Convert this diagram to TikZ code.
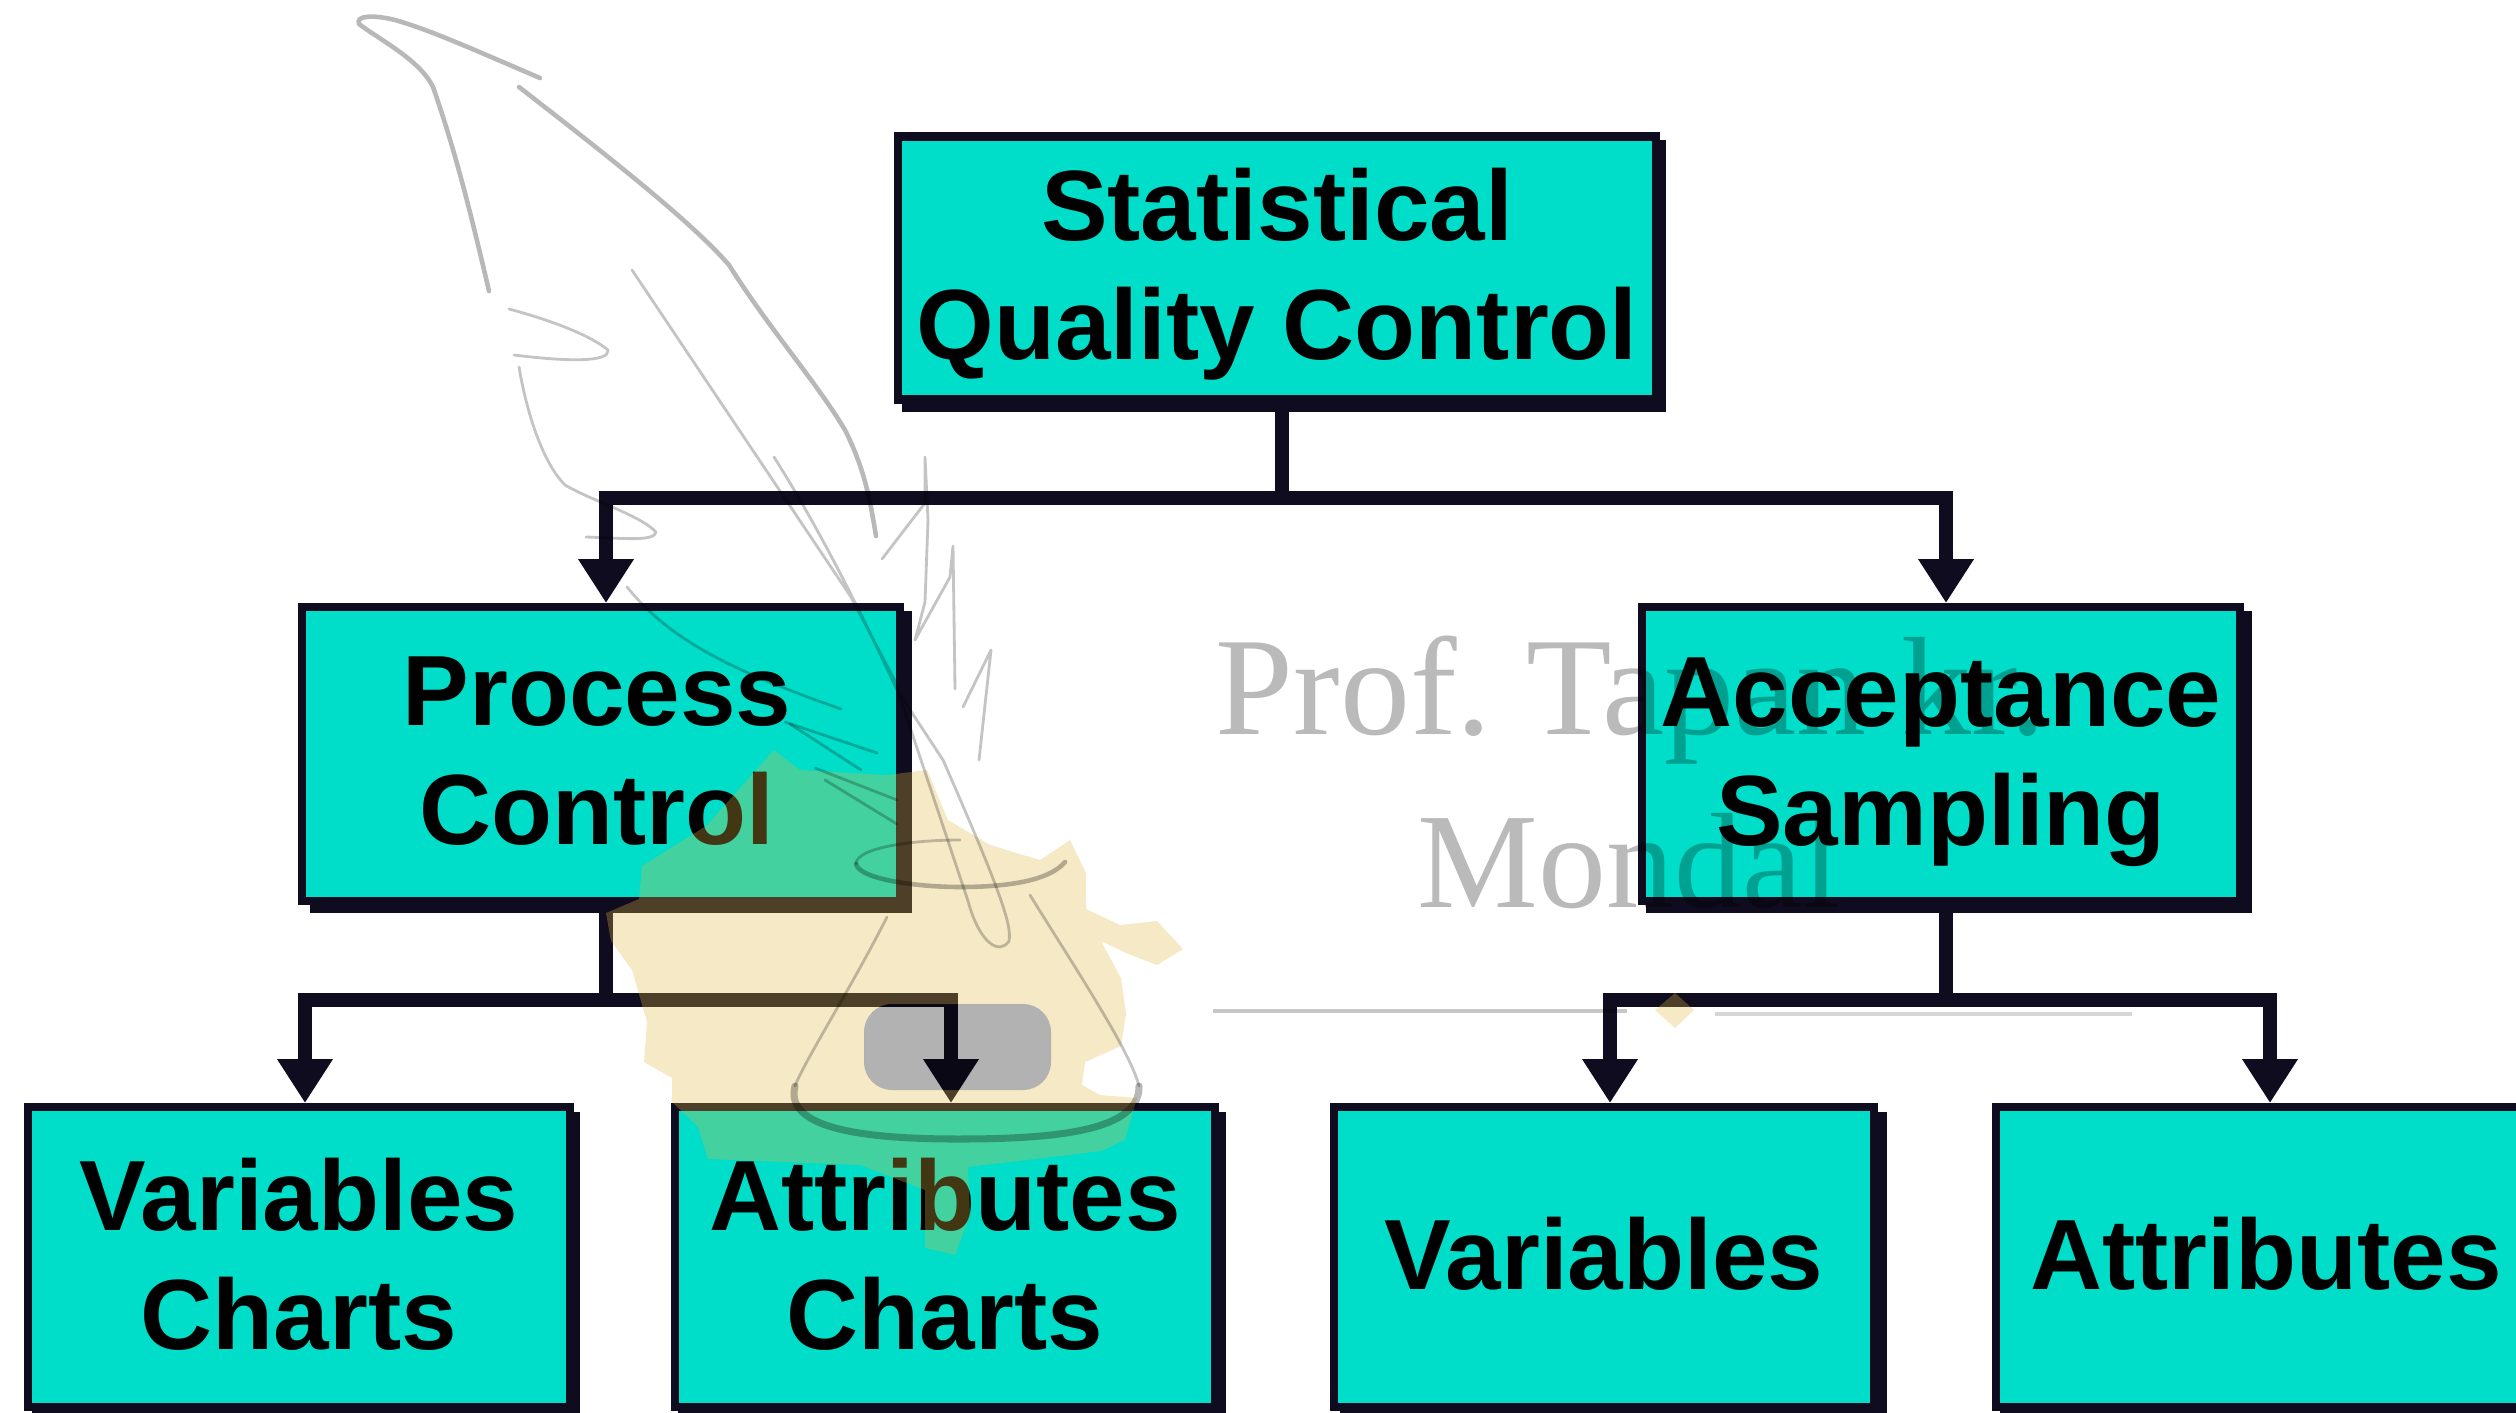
\documentclass[tikz,border=0pt]{standalone}
\usepackage{fontspec}
\setmainfont{Liberation Sans}[BoldFont={Liberation Sans Bold}]
\newfontfamily\wmfont{Liberation Serif}
\usetikzlibrary{arrows.meta}
\definecolor{teal1}{RGB}{0,221,200}
\definecolor{ink}{RGB}{14,12,30}
\definecolor{stainc}{RGB}{225,182,65}
\newlength{\pxu}\setlength{\pxu}{0.2845pt}
\newcommand{\lowertext}{\rule{0pt}{24.2pt}}
\newcommand{\raisetext}{\rule[-2pt]{0pt}{2pt}}
\tikzset{
  box/.style={rectangle,draw=ink,line width=2.4pt,fill=teal1,inner sep=0pt,align=center,
    font=\fontsize{28.4pt}{33.8pt}\selectfont\bfseries,text=black},
  link/.style={draw=ink,line width=4pt},
  arrowlink/.style={link,-{Triangle[length=12.5pt,width=15pt]}},
  boxshadow/.style={fill=ink},
  mark1/.style={draw=black,draw opacity=.28,line cap=round,line join=round,line width=1.3pt},
  mark2/.style={draw=black,draw opacity=.23,line cap=round,line join=round,line width=.8pt},
  wmtext/.style={text=black,text opacity=.27,anchor=base west,inner sep=0pt},
}
\begin{document}
\begin{tikzpicture}[x=0.01cm,y=-0.01cm]
\useasboundingbox (0,0) rectangle (2516,1412);
\begin{scope}
\clip (0,0) rectangle (2516,1412);
% shadows
\fill[boxshadow] (902,140) rectangle (1666,412);
\fill[boxshadow] (310,611) rectangle (912,913);
\fill[boxshadow] (1646,611) rectangle (2252,913);
\fill[boxshadow] (32,1112) rectangle (580,1430);
\fill[boxshadow] (678,1112) rectangle (1226,1430);
\fill[boxshadow] (1340,1112) rectangle (1887,1430);
\fill[boxshadow] (2000,1112) rectangle (2560,1430);
% boxes
\node[box,minimum width=758\pxu,minimum height=263\pxu] (sqc) at (1277,268) {\lowertext Statistical\\Quality Control};
\node[box,minimum width=598\pxu,minimum height=294\pxu] (pc) at (601,754) {Process\hspace*{2.3pt}\\Control\hspace*{2.3pt}\raisetext};
\node[box,minimum width=598\pxu,minimum height=294\pxu] (as) at (1941,754) {\lowertext Acceptance\\Sampling};
\node[box,minimum width=542\pxu,minimum height=300\pxu] (vc) at (299,1257) {Variables\\Charts\raisetext};
\node[box,minimum width=540\pxu,minimum height=300\pxu] (ac) at (945,1257) {Attributes\\Charts\raisetext};
\node[box,minimum width=540\pxu,minimum height=300\pxu] (vv) at (1604,1257) {Variables\raisetext};
\node[box,minimum width=540\pxu,minimum height=300\pxu] (aa) at (2266,1257) {Attributes\raisetext};
% connectors
\coordinate (j0) at (1282,498);
\coordinate (j1) at (606,1000);
\coordinate (j2) at (1946,1000);
\draw[link] (1282,412) -- (j0);
\draw[arrowlink] (j0) -| (606,603);
\draw[arrowlink] (j0) -| (1946,603);
\draw[link] (606,913) -- (j1);
\draw[arrowlink] (j1) -| (305,1103);
\draw[arrowlink] (j1) -| (951,1103);
\draw[link] (1946,913) -- (j2);
\draw[arrowlink] (j2) -| (1610,1103);
\draw[arrowlink] (j2) -| (2270,1103);
% stain
\fill[stainc,fill opacity=.3,even odd rule]
 (639,899) -- (642,866) -- (706,826) -- (774,750) -- (800,770) -- (887,775) -- (927,770)
 -- (948,820) -- (990,845) -- (1040,860) -- (1070,840) -- (1086,873) -- (1086,909) -- (1120,925)
 -- (1157,921) -- (1183,949) -- (1157,965) -- (1126,953) -- (1101,941) -- (1121,978) -- (1126,1014)
 -- (1121,1046) -- (1085,1062) -- (1082,1085) -- (1100,1095) -- (1137,1098) -- (1125,1140)
 -- (1101,1151) -- (968,1167) -- (970,1215) -- (955,1255) -- (925,1248) -- (925,1190) -- (860,1165)
 -- (708,1159) -- (698,1127) -- (672,1102) -- (672,1078) -- (644,1062) -- (647,1022) -- (632,970)
 -- (611,941) -- (606,913) -- cycle
 [rounded corners=28\pxu] (864,1004) rectangle (1051,1090);
\fill[black,fill opacity=.3,rounded corners=28\pxu] (864,1004) rectangle (1051,1090);
% feather
\draw[mark1] (489,291) .. controls (470,210) and (455,150) .. (433,87)
  .. controls (420,60) and (380,40) .. (359,24) .. controls (355,15) and (375,15) .. (395,20)
  .. controls (430,30) and (470,48) .. (540,78);
\draw[mark1] (519,87) .. controls (600,150) and (690,220) .. (729,265)
  .. controls (770,330) and (815,380) .. (845,430) .. controls (865,470) and (870,500) .. (876,536);
\draw[mark2] (509,309) .. controls (550,320) and (590,335) .. (608,350) .. controls (610,362) and (570,362) .. (514,355);
\draw[mark2] (519,367) .. controls (528,420) and (545,465) .. (565,485) .. controls (590,500) and (640,515) .. (656,532) .. controls (655,542) and (620,538) .. (586,537);
\draw[mark2] (627,587) .. controls (670,640) and (730,670) .. (841,709);
\draw[mark2] (785,722) -- (877,753);
\draw[mark2] (790,724) -- (861,770);
\draw[mark2] (815,768) -- (897,800);
\draw[mark2] (825,780) -- (897,824);
\draw[mark2] (632,270) -- (851,597) -- (894,679) -- (968,901) .. controls (980,945) and (1000,955) .. (1009,941) .. controls (1012,925) and (1000,890) .. (943,760) -- (897,690) .. controls (860,610) and (820,530) .. (774,457);
\draw[mark2] (882,559) -- (925,503) -- (925,457) -- (928,520) -- (925,602) -- (915,640) -- (950,577) -- (953,546) -- (955,689);
\draw[mark2] (963,707) -- (991,650) -- (979,760);
% flask
\draw[mark2] (856,864) .. controls (856,848) and (910,840) .. (960,840);
\draw[mark1] (856,864) .. controls (860,880) and (920,887) .. (960,887) .. controls (1010,887) and (1050,880) .. (1065,862);
\draw[mark2] (887,917) .. controls (850,990) and (805,1060) .. (795,1086);
\draw[mark2] (1030,895) .. controls (1070,960) and (1130,1050) .. (1139,1086);
\draw[mark1,line width=2pt] (795,1086) .. controls (785,1125) and (850,1139) .. (958,1139) .. controls (1060,1139) and (1140,1130) .. (1139,1086);
% watermark
\node[wmtext,font=\wmfont\fontsize{39.8pt}{39.8pt}\selectfont\frenchspacing] (wm1) at (1215,734) {Prof. Tapan kr.};
\node[wmtext,font=\wmfont\fontsize{38.6pt}{38.6pt}\selectfont] (wm2) at (1417,907) {Mondal};
\draw[black,opacity=.22,line width=1.4pt] (1213,1011) -- (1627,1011);
\draw[black,opacity=.16,line width=1.4pt] (1715,1014) -- (2132,1014);
\fill[stainc,fill opacity=.3] (1675,993) -- (1694,1010) -- (1675,1028) -- (1655,1010) -- cycle;
\end{scope}
\end{tikzpicture}
\end{document}
